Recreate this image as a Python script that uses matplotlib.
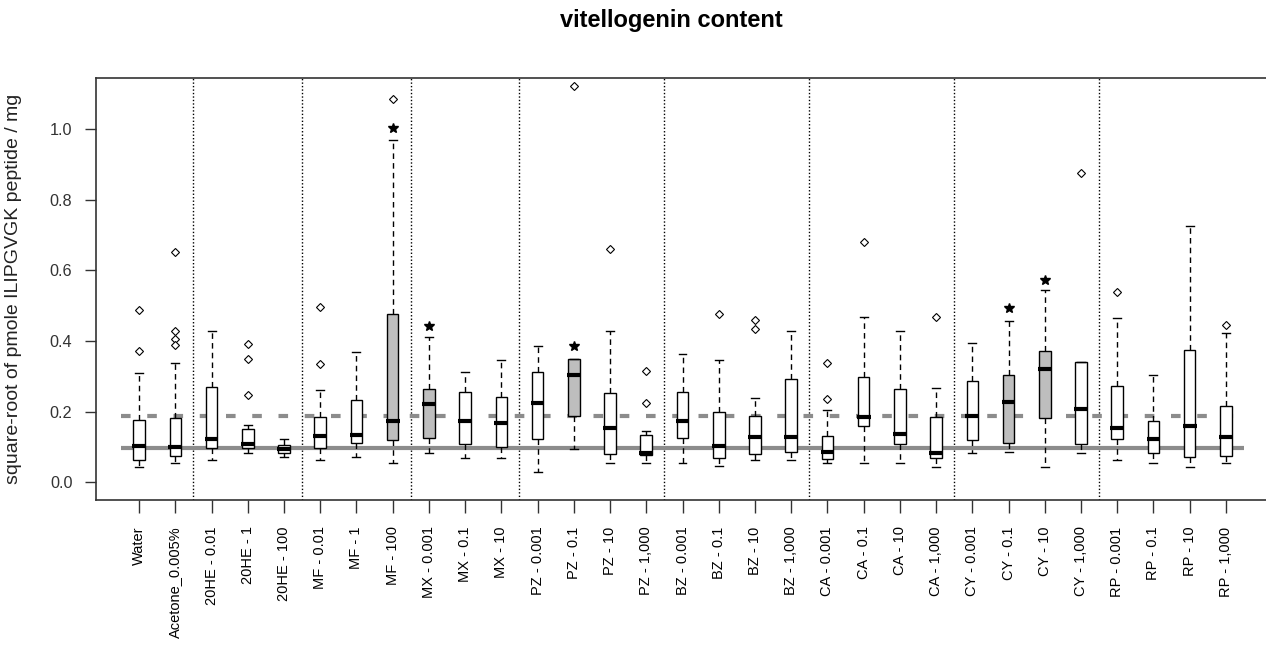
import matplotlib
matplotlib.use("Agg")
import matplotlib.pyplot as plt

plt.rcParams['font.family'] = ['Liberation Sans', 'DejaVu Sans']

labels = ['Water', 'Acetone_0.005%', '20HE - 0.01', '20HE - 1', '20HE - 100',
          'MF - 0.01', 'MF - 1', 'MF - 100', 'MX - 0.001', 'MX - 0.1', 'MX - 10',
          'PZ - 0.001', 'PZ - 0.1', 'PZ - 10', 'PZ - 1,000',
          'BZ - 0.001', 'BZ - 0.1', 'BZ - 10', 'BZ - 1,000',
          'CA - 0.001', 'CA - 0.1', 'CA - 10', 'CA - 1,000',
          'CY - 0.001', 'CY - 0.1', 'CY - 10', 'CY - 1,000',
          'RP - 0.001', 'RP - 0.1', 'RP - 10', 'RP - 1,000']

# five-number summaries
whislo = [0.043, 0.054, 0.062, 0.083, 0.071, 0.062, 0.071, 0.055, 0.083, 0.070, 0.070,
          0.029, 0.095, 0.054, 0.054, 0.054, 0.045, 0.063, 0.063,
          0.055, 0.055, 0.055, 0.044, 0.083, 0.087, 0.044, 0.083,
          0.062, 0.055, 0.044, 0.055]
q1 = [0.062, 0.076, 0.097, 0.097, 0.084, 0.097, 0.111, 0.120, 0.126, 0.109, 0.101,
      0.123, 0.187, 0.080, 0.077, 0.126, 0.070, 0.080, 0.087,
      0.066, 0.159, 0.109, 0.070, 0.120, 0.111, 0.183, 0.108,
      0.123, 0.083, 0.072, 0.075]
med = [0.102, 0.099, 0.123, 0.108, 0.095, 0.130, 0.133, 0.174, 0.221, 0.174, 0.167,
       0.224, 0.303, 0.155, 0.083, 0.174, 0.104, 0.127, 0.127,
       0.087, 0.184, 0.138, 0.083, 0.187, 0.227, 0.321, 0.209,
       0.155, 0.123, 0.159, 0.127]
q3 = [0.177, 0.183, 0.270, 0.151, 0.106, 0.186, 0.234, 0.476, 0.263, 0.256, 0.241,
      0.313, 0.350, 0.253, 0.133, 0.256, 0.199, 0.187, 0.293,
      0.130, 0.299, 0.263, 0.184, 0.288, 0.303, 0.372, 0.342,
      0.274, 0.173, 0.375, 0.216]
whishi = [0.309, 0.337, 0.428, 0.162, 0.122, 0.262, 0.368, 0.970, 0.412, 0.313, 0.346,
          0.386, 0.350, 0.428, 0.144, 0.363, 0.346, 0.238, 0.428,
          0.205, 0.468, 0.428, 0.266, 0.396, 0.457, 0.544, 0.342,
          0.465, 0.304, 0.725, 0.422]
outliers = {1: [0.373, 0.489], 2: [0.651, 0.428, 0.407, 0.388],
            4: [0.391, 0.348, 0.246], 6: [0.497, 0.334], 8: [1.085],
            13: [1.121], 14: [0.662], 15: [0.315, 0.226],
            17: [0.478], 18: [0.460, 0.435], 20: [0.338, 0.236],
            21: [0.680], 23: [0.468], 27: [0.875], 28: [0.540], 31: [0.446]}

# significant groups (grey boxes, star above)
signif = [8, 9, 13, 25, 26]
star_y = [1.002, 0.443, 0.386, 0.495, 0.574]

water_level = 0.097
acetone_level = 0.187
separators = [2.5, 5.5, 8.5, 11.5, 15.5, 19.5, 23.5, 27.5]


def main() -> None:
    fig = plt.figure(figsize=(12.66, 6.49), dpi=100)
    ax = fig.add_axes([96 / 1266, 1 - 500 / 649, (1269 - 96) / 1266, (500 - 78) / 649])

    n = len(labels)
    stats = []
    for i in range(n):
        stats.append(dict(whislo=whislo[i], q1=q1[i], med=med[i], q3=q3[i],
                          whishi=whishi[i], fliers=outliers.get(i + 1, [])))
    pos = list(range(1, n + 1))

    for x in separators:
        ax.axvline(x, color='black', linestyle=(0, (1, 1.5)), lw=1, zorder=1)
    ax.hlines(water_level, 0.5, n + 0.5, color='#8c8c8c', lw=3, zorder=1)
    ax.hlines(acetone_level, 0.5, n + 0.5, color='#8c8c8c', lw=3,
              linestyle=(0, (2.3, 4)), zorder=1)

    bp = ax.bxp(stats, positions=pos, widths=0.32, capwidths=0.22, patch_artist=True,
                boxprops=dict(facecolor='white', edgecolor='black', lw=1),
                whiskerprops=dict(color='black', lw=1, linestyle=(0, (4, 3))),
                capprops=dict(color='black', lw=1),
                medianprops=dict(color='black', lw=3, solid_capstyle='butt'),
                flierprops=dict(marker='D', markersize=4.5, markerfacecolor='white',
                                markeredgecolor='black', markeredgewidth=0.8))
    for i, box in enumerate(bp['boxes']):
        box.set_zorder(2)
        if i + 1 in signif:
            box.set_facecolor('#bebebe')
    for m in bp['medians']:
        m.set_zorder(3)
        xd = m.get_xdata()
        m.set_xdata([xd[0] - 0.03, xd[1] + 0.03])

    ax.plot(signif, star_y, linestyle='none', marker='*', markersize=7,
            color='black', zorder=4)

    ax.set_xlim(-0.19, 32.19)
    ax.set_ylim(-0.05, 1.145)
    ax.set_yticks([0.0, 0.2, 0.4, 0.6, 0.8, 1.0])
    ax.set_yticklabels(['0.0', '0.2', '0.4', '0.6', '0.8', '1.0'])
    ax.set_xticks(pos)
    ax.set_xticklabels(labels, rotation=90, fontsize=10.5)
    ax.tick_params(axis='y', labelsize=11.7, length=8, width=1, color='#333333',
                   labelcolor='#333333', pad=9)
    ax.tick_params(axis='x', length=9, width=1, color='#333333', pad=10)
    for s in ax.spines.values():
        s.set_color('#333333')
        s.set_linewidth(1.2)

    ax.set_ylabel('square-root of pmole ILIPGVGK peptide / mg', fontsize=14,
                  color='#222222')
    ax.yaxis.set_label_coords((22 - 96) / 1173, 0.5)
    fig.text(671 / 1266, 1 - 21 / 649, 'vitellogenin content', ha='center', va='center',
             fontsize=17, fontweight='bold')

    fig.savefig('out.png', dpi=100)


if __name__ == "__main__":
    main()
